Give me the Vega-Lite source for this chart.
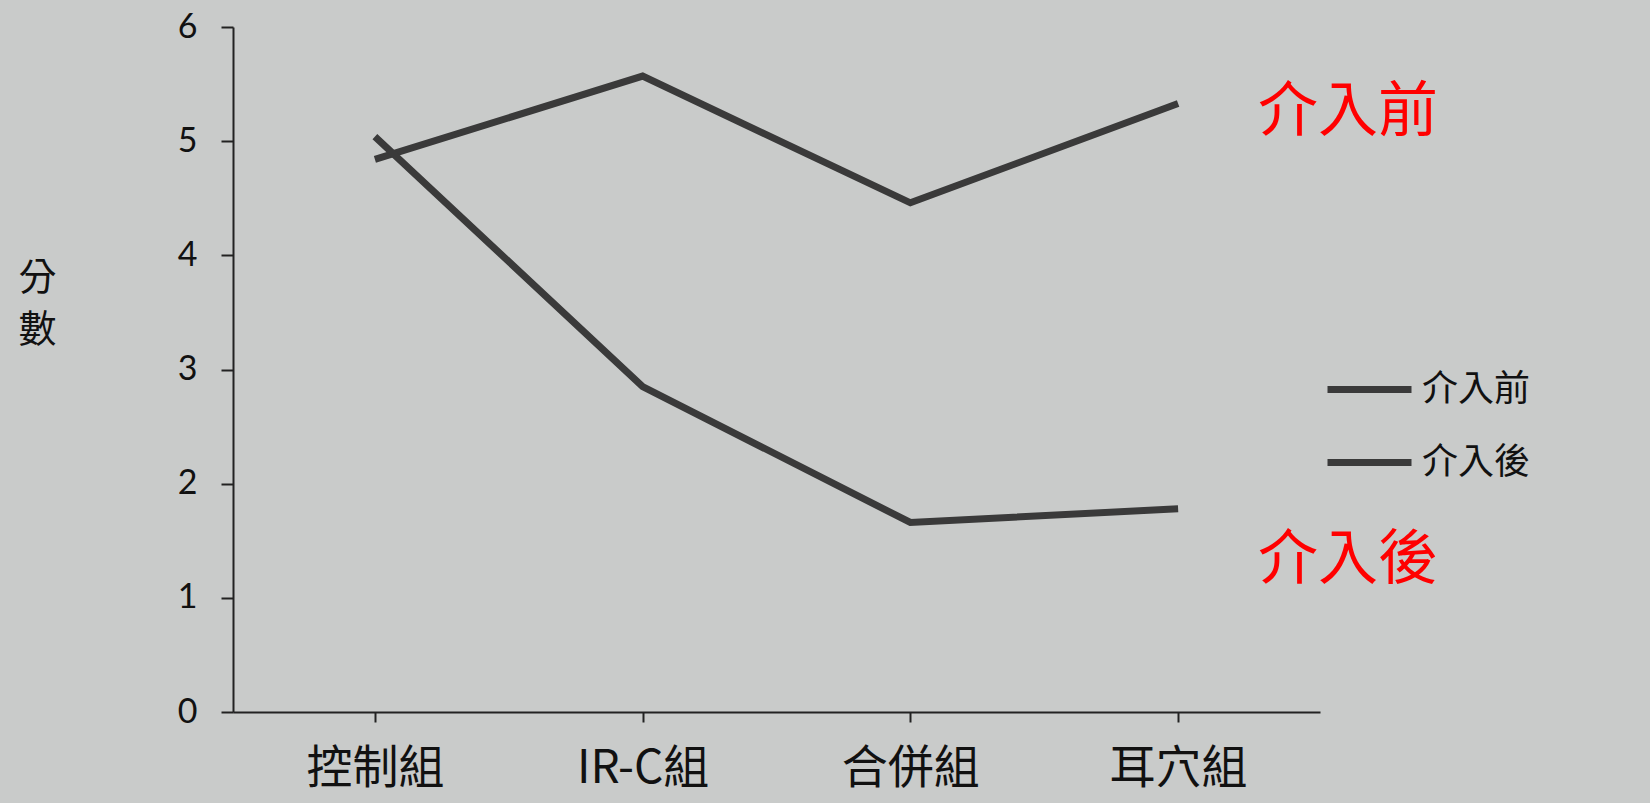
{
  "$schema": "https://vega.github.io/schema/vega-lite/v6.json",
  "width": 1087,
  "height": 685,
  "autosize": "none",
  "padding": {"left": 233, "top": 27, "right": 330, "bottom": 91},
  "background": "#c9cbca",
  "config": {
    "view": {"stroke": null},
    "axis": {"domainColor": "#222222", "tickColor": "#222222", "domainWidth": 2, "tickWidth": 2, "grid": false}
  },
  "data": {
    "values": [
      {"組別": "控制組", "時間": "介入前", "分數": 4.84},
      {"組別": "IR-C組", "時間": "介入前", "分數": 5.57},
      {"組別": "合併組", "時間": "介入前", "分數": 4.46},
      {"組別": "耳穴組", "時間": "介入前", "分數": 5.33},
      {"組別": "控制組", "時間": "介入後", "分數": 5.04},
      {"組別": "IR-C組", "時間": "介入後", "分數": 2.85},
      {"組別": "合併組", "時間": "介入後", "分數": 1.66},
      {"組別": "耳穴組", "時間": "介入後", "分數": 1.78}
    ]
  },
  "encoding": {
    "x": {
      "field": "組別",
      "type": "nominal",
      "sort": ["控制組", "IR-C組", "合併組", "耳穴組"],
      "scale": {"type": "point", "padding": 0.53},
      "axis": {
        "title": null,
        "labelAngle": 0,
        "labelFont": "Noto Sans CJK TC",
        "labelFontSize": 46,
        "labelColor": "#111111",
        "labelPadding": 24,
        "tickSize": 10
      }
    },
    "y": {
      "field": "分數",
      "type": "quantitative",
      "scale": {"domain": [0, 6], "nice": false},
      "axis": {
        "values": [0, 1, 2, 3, 4, 5, 6],
        "title": ["分", "數"],
        "titleAngle": 0,
        "titleFont": "Noto Sans CJK TC",
        "titleFontSize": 38,
        "titleFontWeight": "normal",
        "titleColor": "#111111",
        "titleLineHeight": 52,
        "titleAlign": "center",
        "titleBaseline": "top",
        "titleX": -196,
        "titleY": 232,
        "labelFont": "Lato",
        "labelFontSize": 34,
        "labelColor": "#111111",
        "labelPadding": 24,
        "tickSize": 12
      }
    }
  },
  "layer": [
    {
      "mark": {"type": "line", "strokeWidth": 7, "color": "#3a3a3a"},
      "encoding": {
        "detail": {"field": "時間", "type": "nominal"},
        "stroke": {
          "field": "時間",
          "type": "nominal",
          "scale": {"domain": ["介入前", "介入後"], "range": ["#3a3a3a", "#3a3a3a"]},
          "legend": {
            "title": null,
            "orient": "none",
            "legendX": 1098,
            "legendY": 324,
            "symbolType": "M-1.2,0H1.2",
            "symbolSize": 4900,
            "symbolStrokeWidth": 7,
            "symbolStrokeColor": "#3a3a3a",
            "rowPadding": 16,
            "labelOffset": 14,
            "labelFont": "Noto Sans CJK TC",
            "labelFontSize": 36,
            "labelColor": "#111111"
          }
        }
      }
    },
    {
      "transform": [{"filter": "datum['組別'] === '耳穴組' && datum['時間'] === '介入前'"}],
      "mark": {"type": "text", "align": "left", "baseline": "middle", "dx": 80, "dy": 10, "fontSize": 60, "font": "Noto Sans CJK TC", "color": "#ff0000"},
      "encoding": {"text": {"field": "時間"}}
    },
    {
      "transform": [{"filter": "datum['組別'] === '耳穴組' && datum['時間'] === '介入後'"}],
      "mark": {"type": "text", "align": "left", "baseline": "middle", "dx": 80, "dy": 52, "fontSize": 60, "font": "Noto Sans CJK TC", "color": "#ff0000"},
      "encoding": {"text": {"field": "時間"}}
    }
  ]
}
